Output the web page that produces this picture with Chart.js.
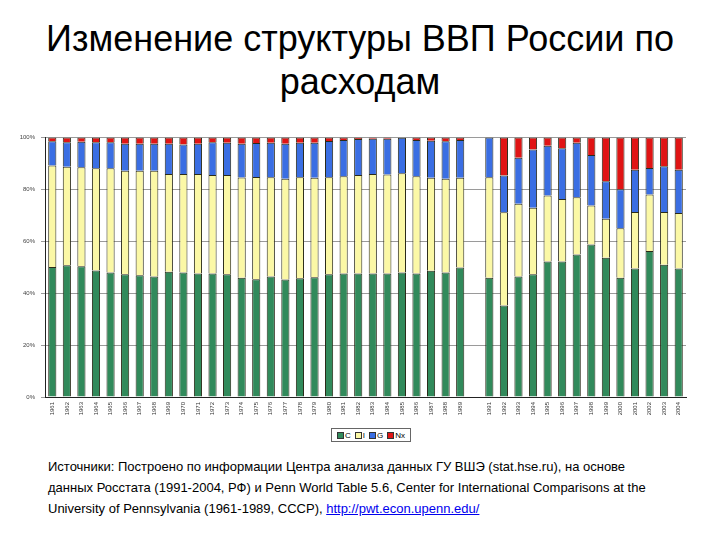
<!DOCTYPE html>
<html>
<head>
<meta charset="utf-8">
<script src="https://cdn.jsdelivr.net/npm/chart.js@4"></script>
<style>
  html, body { margin:0; padding:0; background:#fff; }
  body { width:720px; height:540px; position:relative; overflow:hidden; font-family:"Liberation Sans", Arial, sans-serif; }
  #title { position:absolute; left:0; top:17px; width:720px; text-align:center; font-size:36px; line-height:43px; color:#000; }
  #wrap { position:absolute; left:0; top:128px; width:720px; height:300px; }
  #legend { position:absolute; left:331px; top:428px; width:80px; height:14px; border:1px solid #666; box-sizing:border-box; display:flex; align-items:center; justify-content:center; gap:4px; font-size:8px; color:#000; }
  #legend span.sw { display:inline-block; width:5px; height:5px; border:1px solid #333; margin-right:1px; vertical-align:middle; }
  #src { position:absolute; left:48px; top:456px; width:660px; font-size:13px; line-height:21px; color:#000; }
  #src a { color:#0000ee; text-decoration:underline; }
</style>
</head>
<body>
<div id="title">Изменение структуры ВВП России по<br>расходам</div>
<div id="wrap"><canvas id="c" width="720" height="300"></canvas></div>
<div id="legend"></div>
<div id="src">Источники: Построено по информации Центра анализа данных ГУ ВШЭ (stat.hse.ru), на основе<br>данных Росстата (1991-2004, РФ) и Penn World Table 5.6, Center for International Comparisons at the<br>University of Pennsylvania (1961-1989, СССР), <a href="http://pwt.econ.upenn.edu/">http://pwt.econ.upenn.edu/</a></div>
<script>
const years = ["1961","1962","1963","1964","1965","1966","1967","1968","1969","1970","1971","1972","1973","1974","1975","1976","1977","1978","1979","1980","1981","1982","1983","1984","1985","1986","1987","1988","1989","","1991","1992","1993","1994","1995","1996","1997","1998","1999","2000","2001","2002","2003","2004"];
const seriesNames = ["C","I","G","Nx"];
const consumption = [50.1,50.8,50.4,48.8,48.0,47.3,46.9,46.5,48.3,48.0,47.6,47.6,47.3,46.0,45.4,46.5,45.3,45.8,46.2,47.3,47.6,47.6,47.6,47.6,48.0,47.6,48.7,48.0,49.9,null,46.0,35.3,46.5,47.3,52.2,52.2,54.9,58.8,53.7,46.0,49.5,56.3,51.0,49.5];
const investment = [39.1,38.0,38.2,39.4,40.2,39.9,40.3,40.7,37.7,38.0,38.4,38.0,38.3,38.6,39.4,38.2,38.8,38.9,38.3,37.4,37.5,38.0,38.4,38.2,38.3,37.5,35.8,36.1,34.6,null,38.7,35.9,28.0,25.7,25.5,24.1,22.1,15.0,15.0,19.1,21.8,21.8,20.3,21.4];
const government = [9.4,9.4,9.8,10.0,10.0,10.4,10.4,10.4,11.6,11.3,11.6,12.6,12.4,13.0,13.1,13.3,13.5,13.3,13.5,14.0,14.0,13.9,13.6,13.8,13.6,14.0,14.3,14.5,14.6,null,15.3,14.2,17.7,22.4,19.2,19.6,21.0,19.5,14.5,15.0,16.3,10.2,17.7,16.7];
const netExports = [1.4,1.8,1.6,1.8,1.8,2.4,2.4,2.4,2.4,2.7,2.4,1.8,2.0,2.4,2.1,2.0,2.4,2.0,2.0,1.3,0.9,0.5,0.4,0.4,0.1,0.9,1.2,1.4,0.9,null,0.0,14.6,7.8,4.6,3.1,4.1,2.0,6.7,16.8,19.9,12.4,11.7,11.0,12.4];
const yTicks = ["0%","20%","40%","60%","80%","100%"];

const colors = ["#318a5b","#fbf8a6","#3a6ee3","#e01414"];
const seriesData = [consumption, investment, government, netExports];

const legend = document.getElementById('legend');
seriesNames.forEach((n,i)=>{
  const d = document.createElement('span');
  d.innerHTML = '<span class="sw" style="background:'+colors[i]+'"></span>'+n;
  legend.appendChild(d);
});

new Chart(document.getElementById('c'), {
  type: 'bar',
  data: {
    labels: years,
    datasets: seriesNames.map((n,i)=>({
      label: n,
      data: seriesData[i],
      backgroundColor: colors[i],
      borderColor: "#2b2b1a",
      borderWidth: 1,
      barPercentage: 0.56,
      categoryPercentage: 1.0
    }))
  },
  options: {
    responsive: false,
    animation: false,
    layout: { padding: { left: 0, right: 34, top: 9, bottom: 0 } },
    plugins: { legend: { display: false }, tooltip: { enabled: false } },
    scales: {
      x: {
        stacked: true,
        grid: { display: false, drawTicks: true, tickLength: 3, color: "#333" },
        border: { color: "#222", width: 1 },
        ticks: { minRotation: 90, maxRotation: 90, autoSkip: false, font: { size: 6, family: "Liberation Sans" }, color: "#333", padding: 2 },
        afterFit: (s) => { s.height = 31; }
      },
      y: {
        stacked: true,
        min: 0, max: 100,
        grid: { color: "#9a9a9a", lineWidth: 1, drawTicks: true, tickLength: 4 },
        border: { color: "#222", width: 1 },
        ticks: { stepSize: 20, font: { size: 6, family: "Liberation Sans" }, color: "#444", padding: 6,
          callback: (v) => yTicks[v/20] },
        afterFit: (s) => { s.width = 45; }
      }
    }
  }
});
</script>
</body>
</html>
